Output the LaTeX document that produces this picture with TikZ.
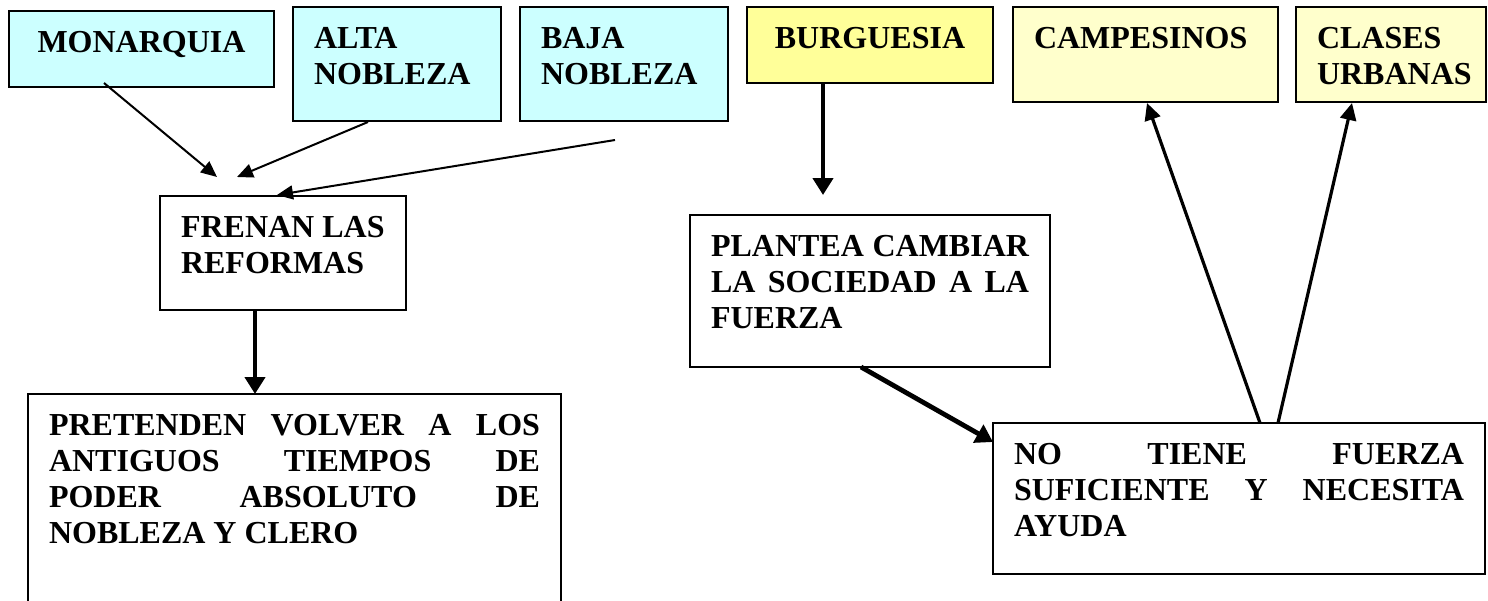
\documentclass[tikz,border=0pt]{standalone}
\usepackage{fontspec}
\setmainfont{Liberation Serif}
\usepackage{xcolor}
\usetikzlibrary{arrows.meta,calc}
\definecolor{celeste}{HTML}{CCFFFF}
\definecolor{amarillo}{HTML}{FFFF99}
\definecolor{crema}{HTML}{FFFFCC}
\hyphenpenalty=10000
\exhyphenpenalty=10000
\hbadness=10000
\newcommand{\cajatxt}[3]{\parbox[t][#2][t]{#1}{#3}}

\begin{document}
\begin{tikzpicture}[x=0.5pt,y=-0.5pt,
    caja/.style={draw,line width=1pt,anchor=north west,outer sep=0pt,
      inner xsep=10.5pt,inner ysep=10pt,font=\fontsize{16pt}{18pt}\selectfont\bfseries},
    fina/.style={-{Triangle[length=8pt,width=7pt]},line width=1pt},
    media/.style={-{Triangle[length=8.5pt,width=8pt]},line width=1.6pt},
    gruesa/.style={-{Triangle[length=8.5pt,width=10pt]},line width=2.4pt}]
    \useasboundingbox (0,0) rectangle (1488,600);
    % fila de arriba
    \node[caja,fill=celeste] (mon) at (9,11) {\cajatxt{111.5pt}{18pt}{\centering MONARQUIA}};
    \node[caja,fill=celeste] (alta) at (293,7) {\cajatxt{83pt}{37pt}{ALTA\\ NOBLEZA}};
    \node[caja,fill=celeste] (baja) at (520,7) {\cajatxt{83pt}{37pt}{BAJA\\ NOBLEZA}};
    \node[caja,fill=amarillo] (burg) at (747,7) {\cajatxt{102pt}{18pt}{\centering BURGUESIA}};
    \node[caja,fill=crema] (camp) at (1013,7) {\cajatxt{111.5pt}{27.5pt}{CAMPESINOS}};
    \node[caja,fill=crema] (clases) at (1296,7) {\cajatxt{74pt}{27.5pt}{CLASES\\ URBANAS}};
    % lado izquierdo
    \node[caja] (frenan) at (160,196) {\cajatxt{102pt}{37pt}{FRENAN LAS\\ REFORMAS}};
    \node[caja] (pretenden) at (28,394) {\cajatxt{245.5pt}{95pt}{PRETENDEN VOLVER A LOS\linebreak
        ANTIGUOS TIEMPOS DE\linebreak PODER ABSOLUTO DE\linebreak NOBLEZA Y CLERO}};
    % lado derecho
    \node[caja] (plantea) at (690,215) {\cajatxt{159pt}{56pt}{PLANTEA CAMBIAR\linebreak
        LA SOCIEDAD A LA\linebreak FUERZA}};
    \node[caja] (notiene) at (993,423) {\cajatxt{225pt}{55.5pt}{NO TIENE FUERZA\linebreak
        SUFICIENTE Y NECESITA\linebreak AYUDA}};
    % flechas
    \draw[fina] ($(mon.south west)+(95,-4)$) -- ($(frenan.north west)+(57,-19)$);
    \draw[fina] ($(alta.south west)+(75,1)$) -- ($(frenan.north west)+(77,-19)$);
    \draw[fina] ($(baja.south west)+(95,19)$) -- ($(frenan.north west)+(117,-1)$);
    \draw[gruesa] ($(frenan.south west)+(95,0)$) -- ($(pretenden.north west)+(227,0)$);
    \draw[gruesa] ($(burg.south west)+(76,0)$) -- ($(plantea.north west)+(133,-20)$);
    \draw[gruesa] ($(plantea.south west)+(171,0)$) -- ($(notiene.north west)+(0,19)$);
    \draw[media] ($(notiene.north west)+(267,0)$) -- ($(camp.south west)+(134,1)$);
    \draw[media] ($(notiene.north west)+(285,0)$) -- ($(clases.south west)+(56,1)$);
\end{tikzpicture}
\end{document}
